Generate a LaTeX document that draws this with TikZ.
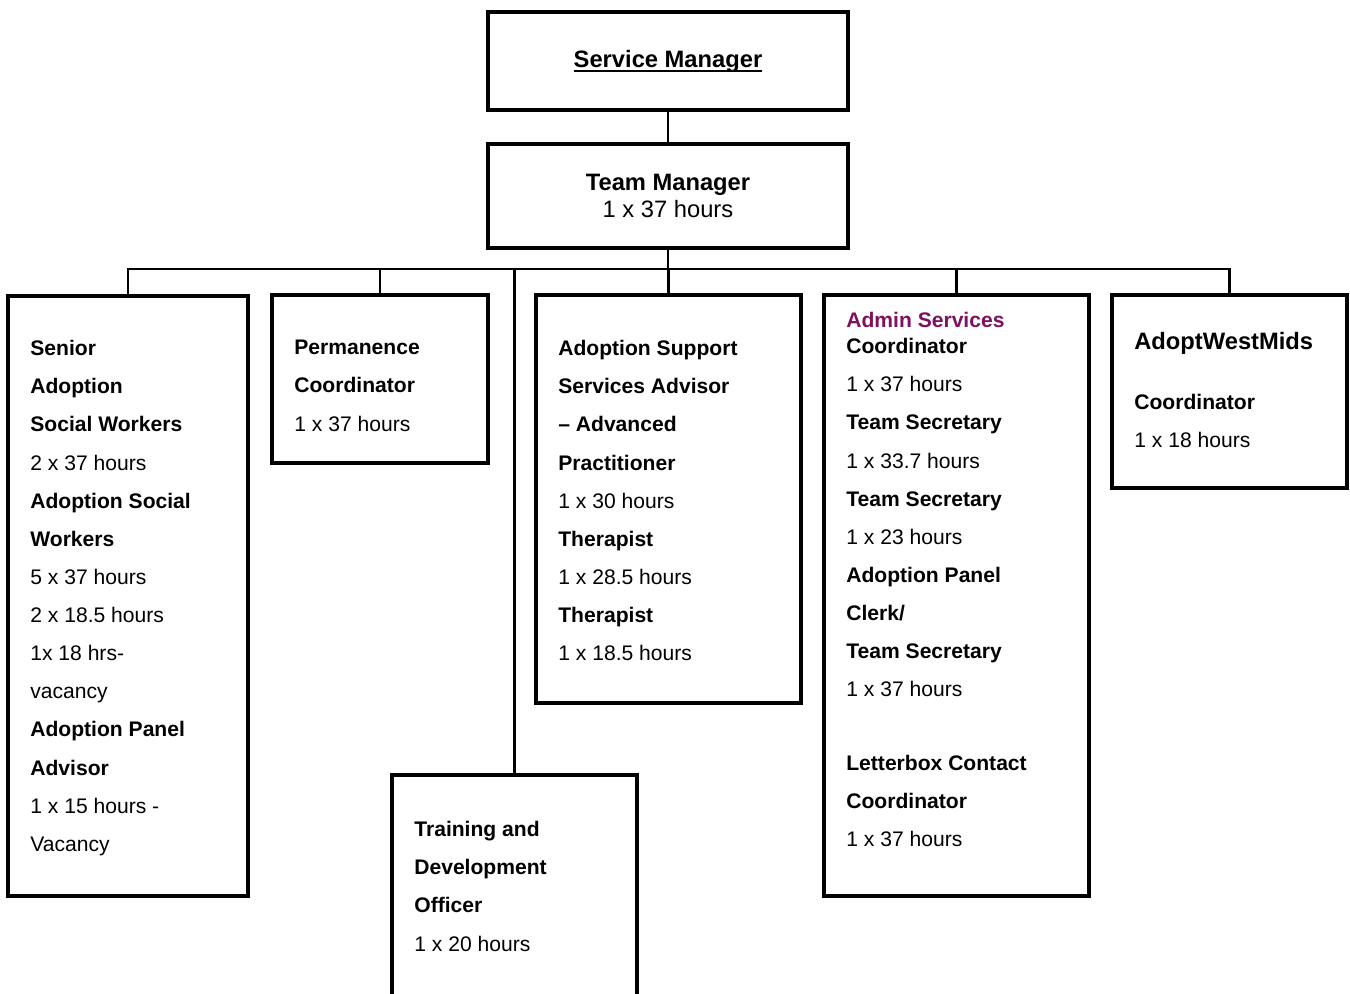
\documentclass[tikz,border=0pt]{standalone}
\usepackage{fontspec}
\setmainfont{Liberation Sans}
\usetikzlibrary{positioning}
\definecolor{adminpurple}{RGB}{128,16,96}
\newcommand{\ulbar}[1]{\setbox0\hbox{#1}\rlap{\rule[-2.6pt]{\wd0}{1.1pt}}\box0}

\begin{document}
\begin{tikzpicture}[
    x=0.02cm, y=-0.02cm,
    unit/.style={rectangle, draw, line width=2pt, inner sep=0pt},
    head/.style={unit, minimum width=7.2cm, align=center, font=\fontsize{13.5}{15.3}\selectfont},
    roles/.style={anchor=north west, inner sep=0pt, align=left, font=\fontsize{12}{21.7}\selectfont},
    title/.style={anchor=north west, inner sep=0pt, font=\fontsize{13.5}{15}\selectfont\bfseries},
    link/.style={line width=1.5pt}
]
    \useasboundingbox (0,0) rectangle (1350,994);
    \clip (0,0) rectangle (1350,994);

    % managers
    \node[head, minimum height=1.96cm] (sm) at (668,61) {\ulbar{\textbf{Service Manager}}};
    \node[head, minimum height=2.08cm] (tm) at (668,196) {\textbf{Team Manager}\\1 x 37 hours};

    % team boxes
    \node[unit, minimum width=4.8cm, minimum height=12cm] (senior) at (128,596) {};
    \node[unit, minimum width=4.32cm, minimum height=3.36cm] (perm) at (380,379) {};
    \node[unit, minimum width=4.9cm, minimum height=4.7cm] (train) at (514.5,892.5) {};
    \node[unit, minimum width=5.3cm, minimum height=8.16cm] (support) at (668.5,499) {};
    \node[unit, minimum width=5.3cm, minimum height=12.02cm] (admin) at (956.5,595.5) {};
    \node[unit, minimum width=4.7cm, minimum height=3.86cm] (awm) at (1229.5,391.5) {};

    % texts
    \node[roles] (senior-text) at (30,340) {\textbf{Senior}\\\textbf{Adoption}\\\textbf{Social Workers}\\2 x 37 hours\\\textbf{Adoption Social}\\\textbf{Workers}\\5 x 37 hours\\2 x 18.5 hours\\1x 18 hrs-\\vacancy\\\textbf{Adoption Panel}\\\textbf{Advisor}\\1 x 15 hours -\\Vacancy};
    \node[roles] (perm-text) at (294,340) {\textbf{Permanence}\\\textbf{Coordinator}\\1 x 37 hours};
    \node[roles] (train-text) at (414,821) {\textbf{Training and}\\\textbf{Development}\\\textbf{Officer}\\1 x 20 hours};
    \node[roles] (support-text) at (558,340) {\textbf{Adoption Support}\\\textbf{Services Advisor}\\\textbf{-- Advanced}\\\textbf{Practitioner}\\1 x 30 hours\\\textbf{Therapist}\\1 x 28.5 hours\\\textbf{Therapist}\\1 x 18.5 hours};
    \node[roles, text=adminpurple] (admin-title) at (846,312) {\textbf{Admin Services}};
    \node[roles] (admin-text) at (846,338) {\textbf{Coordinator}\\1 x 37 hours\\\textbf{Team Secretary}\\1 x 33.7 hours\\\textbf{Team Secretary}\\1 x 23 hours\\\textbf{Adoption Panel}\\\textbf{Clerk/}\\\textbf{Team Secretary}\\1 x 37 hours};
    \node[roles] (letterbox-text) at (846,755) {\textbf{Letterbox Contact}\\\textbf{Coordinator}\\1 x 37 hours};
    \node[title] (awm-title) at (1134,332) {AdoptWestMids};
    \node[roles] (awm-text) at (1134,394) {\textbf{Coordinator}\\1 x 18 hours};

    % connectors
    \coordinate (bus) at (668,269);
    \draw[link] (sm) -- (tm);
    \draw[link] (tm) -- (bus);
    \foreach \n in {senior,perm,train,support,admin,awm}
        \draw[link] (\n.north) |- (bus);
\end{tikzpicture}
\end{document}
